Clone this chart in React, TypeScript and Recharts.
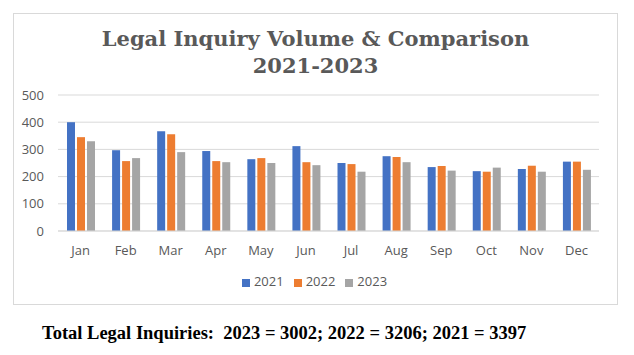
import { BarChart, Bar, XAxis, YAxis, CartesianGrid, Legend } from "recharts";

const MONTHS = ["Jan", "Feb", "Mar", "Apr", "May", "Jun", "Jul", "Aug", "Sep", "Oct", "Nov", "Dec"];
const Y2021 = [400, 297, 367, 294, 264, 312, 250, 275, 235, 220, 228, 255];
const Y2022 = [345, 257, 356, 257, 268, 253, 246, 272, 239, 218, 240, 255];
const Y2023 = [330, 268, 290, 253, 250, 242, 218, 253, 222, 233, 218, 225];
const Y_TICKS = [0, 100, 200, 300, 400, 500];

const data = MONTHS.map((m, i) => ({
  name: m,
  "2021": Y2021[i],
  "2022": Y2022[i],
  "2023": Y2023[i],
}));

const axisFont = { fontSize: 13, fill: "#595959", fontFamily: "'Open Sans', 'Liberation Sans', sans-serif" };

export default function App() {
  return (
    <div style={{ position: "absolute", left: 0, top: 0, width: 634, height: 355, background: "#fff" }}>
      <div
        style={{
          position: "absolute",
          left: 13,
          top: 13,
          width: 603,
          height: 290,
          border: "1px solid #D9D9D9",
        }}
      />
      <div
        style={{
          position: "absolute",
          left: 13,
          width: 605,
          top: 25,
          textAlign: "center",
          fontFamily: "'DejaVu Serif', serif",
          fontWeight: "bold",
          fontSize: 21,
          lineHeight: "27px",
          color: "#595959",
        }}
      >
        Legal Inquiry Volume &amp; Comparison
        <br />
        2021-2023
      </div>
      <div style={{ position: "absolute", left: 0, top: 0 }}>
        <BarChart
          width={634}
          height={355}
          data={data}
          margin={{ top: 95, right: 35, bottom: 86, left: 0 }}
          barSize={8}
          barGap={2}
        >
          <CartesianGrid vertical={false} stroke="#D9D9D9" />
          <XAxis
            dataKey="name"
            tick={axisFont}
            tickLine={false}
            axisLine={{ stroke: "#D9D9D9" }}
            tickMargin={9}
            height={20}
          />
          <YAxis
            ticks={Y_TICKS}
            domain={[0, 500]}
            tick={axisFont}
            tickLine={false}
            axisLine={false}
            width={58}
            tickMargin={8}
          />
          <Legend
            iconType="square"
            iconSize={8}
            verticalAlign="bottom"
            wrapperStyle={{ top: 272, left: 20, fontSize: 13, fontFamily: "'Open Sans', 'Liberation Sans', sans-serif" }}
            formatter={(v) => <span style={{ color: "#595959" }}>{v}</span>}
          />
          <Bar dataKey="2021" fill="#4472C4" isAnimationActive={false} />
          <Bar dataKey="2022" fill="#ED7D31" isAnimationActive={false} />
          <Bar dataKey="2023" fill="#A5A5A5" isAnimationActive={false} />
        </BarChart>
      </div>
      <div
        style={{
          position: "absolute",
          left: 42,
          top: 323,
          fontFamily: "'Liberation Serif', serif",
          fontWeight: "bold",
          fontSize: 18.5,
          color: "#000",
          whiteSpace: "nowrap",
        }}
      >
        Total Legal Inquiries:&nbsp; 2023 = 3002; 2022 = 3206; 2021 = 3397
      </div>
    </div>
  );
}
